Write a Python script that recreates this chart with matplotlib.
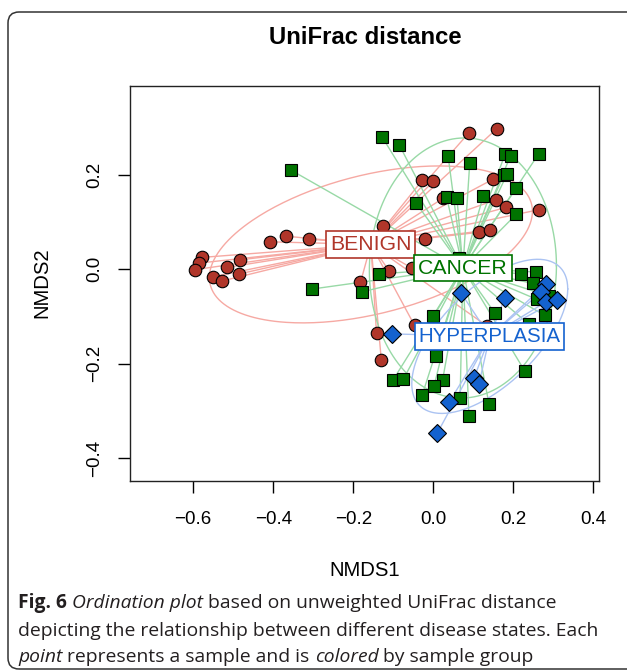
import numpy as np
import matplotlib
matplotlib.use("Agg")
import matplotlib.pyplot as plt
from matplotlib.patches import FancyBboxPatch
from matplotlib.transforms import IdentityTransform

# ---------------- data (NMDS coordinates) ----------------
groups = ["BENIGN", "CANCER", "HYPERPLASIA"]

benign_x = [-0.578, -0.585, -0.596, -0.550, -0.528, -0.515, -0.482, -0.485, -0.408, -0.368, -0.310,
            0.089, 0.158, -0.028, 0.000, 0.150, 0.024, 0.156, 0.182, 0.264, -0.127, 0.113, 0.141,
            -0.022, -0.111, -0.053, -0.182, -0.142, -0.130, -0.047, 0.134]
benign_y = [0.025, 0.013, -0.001, -0.016, -0.025, 0.004, 0.020, -0.010, 0.058, 0.070, 0.064,
            0.289, 0.297, 0.188, 0.186, 0.191, 0.150, 0.147, 0.131, 0.126, 0.092, 0.078, 0.083,
            0.064, -0.003, 0.002, -0.028, -0.136, -0.192, -0.119, -0.120]

cancer_x = [-0.356, -0.303, -0.128, -0.085, 0.037, 0.091, 0.179, 0.193, 0.263, 0.176, 0.184, 0.207,
            -0.043, 0.033, 0.059, 0.125, 0.207, 0.065, -0.135, -0.179, 0.219, 0.256, 0.248, 0.259,
            0.279, 0.000, 0.153, 0.238, 0.007, 0.228, -0.101, -0.075, 0.023, 0.002, -0.028, 0.067,
            0.139, 0.089, 0.289]
cancer_y = [0.210, -0.042, 0.280, 0.263, 0.239, 0.225, 0.243, 0.240, 0.244, 0.200, 0.201, 0.172,
            0.140, 0.153, 0.151, 0.156, 0.116, 0.024, -0.010, -0.048, -0.010, -0.006, -0.030, -0.064,
            -0.098, -0.100, -0.092, -0.116, -0.183, -0.215, -0.235, -0.233, -0.235, -0.247, -0.267, -0.273,
            -0.285, -0.311, -0.057]

hyper_x = [0.069, 0.179, 0.282, 0.269, 0.282, 0.309, -0.104, 0.102, 0.114, 0.039, 0.010]
hyper_y = [-0.050, -0.060, -0.031, -0.049, -0.069, -0.066, -0.137, -0.230, -0.243, -0.282, -0.347]

xticks = [-0.6, -0.4, -0.2, 0.0, 0.2, 0.4]
xtick_labels = ["\u22120.6", "\u22120.4", "\u22120.2", "0.0", "0.2", "0.4"]
yticks = [-0.4, -0.2, 0.0, 0.2]
ytick_labels = ["\u22120.4", "\u22120.2", "0.0", "0.2"]

# ---------------- styles ----------------
fill_cols = {"BENIGN": "#B0362A", "CANCER": "#007300", "HYPERPLASIA": "#1462CF"}
line_cols = {"BENIGN": "#F6A9A3", "CANCER": "#98D9A6", "HYPERPLASIA": "#ABC3F2"}
markers = {"BENIGN": ("o", 9.0), "CANCER": ("s", 8.0), "HYPERPLASIA": ("D", 9.6)}
ell_scale = np.sqrt(-2 * np.log(1 - 0.65))

W, H = 627, 672
fig = plt.figure(figsize=(W / 100, H / 100), dpi=100)
fig.patch.set_facecolor("white")

# outer rounded frame (pixel coordinates)
frame = FancyBboxPatch((8, 3), 660, 657, boxstyle="round,pad=0,rounding_size=11",
                       transform=IdentityTransform(), fill=False, ec="#333333", lw=1.1,
                       clip_on=False)
fig.patches.append(frame)

ax = fig.add_axes([130 / W, 1 - 481 / H, (599 - 130) / W, (481 - 86) / H])
ax.set_xlim(-0.758, 0.414)
ax.set_ylim(-0.4485, 0.388)

font = "Liberation Sans"
data = {"BENIGN": (benign_x, benign_y), "CANCER": (cancer_x, cancer_y),
        "HYPERPLASIA": (hyper_x, hyper_y)}

centroids = {}
for g in groups:
    x = np.array(data[g][0]); y = np.array(data[g][1])
    cx, cy = x.mean(), y.mean()
    centroids[g] = (cx, cy)
    # spider
    for xi, yi in zip(x, y):
        ax.plot([cx, xi], [cy, yi], color=line_cols[g], lw=1.0, zorder=1, solid_capstyle="butt")
    # sd ellipse
    cov = np.cov(np.vstack([x, y]))
    L = np.linalg.cholesky(cov)
    t = np.linspace(0, 2 * np.pi, 300)
    circ = np.vstack([np.cos(t), np.sin(t)])
    e = L @ circ * ell_scale
    ax.plot(cx + e[0], cy + e[1], color=line_cols[g], lw=1.0, zorder=1)

for g in groups:
    x, y = data[g]
    m, ms = markers[g]
    ax.plot(x, y, ls="none", marker=m, ms=ms, mfc=fill_cols[g], mec="black", mew=0.8, zorder=3)

for g, fs in zip(groups, [15.3, 15.3, 14.8]):
    cx, cy = centroids[g]
    ax.text(cx, cy, g, ha="center", va="center", color=fill_cols[g], fontsize=fs, family=font,
            zorder=6, bbox=dict(boxstyle="square,pad=0.18", fc="white", ec=fill_cols[g], lw=1.2))

ax.set_xticks(xticks)
ax.set_xticklabels(xtick_labels, fontsize=13.5, family=font)
ax.set_yticks(yticks)
ax.set_yticklabels(ytick_labels, fontsize=13.5, family=font, rotation=90, va="center")
ax.tick_params(direction="out", length=8.6, width=1.0, color="black")
ax.tick_params(axis="x", pad=13)
ax.tick_params(axis="y", pad=11)
for s in ax.spines.values():
    s.set_linewidth(1.0)
    s.set_color("#222222")

fig.text(365 / W, 1 - 37 / H, "UniFrac distance", ha="center", va="center", fontsize=17.2,
         fontweight="bold", family=font)
fig.text(365 / W, 1 - 570 / H, "NMDS1", ha="center", va="center", fontsize=14.6, family=font)
fig.text(42 / W, 1 - 283 / H, "NMDS2", ha="center", va="center", fontsize=14.6, family=font,
         rotation=90)

# caption with mixed styles
renderer = fig.canvas.get_renderer()
cap_font = "Open Sans"
cap_size = 13.9
cap_col = "#231F20"


def seg_width(s, **kw):
    t = fig.text(0, 0, s, fontsize=cap_size, family=cap_font, **kw)
    w = t.get_window_extent(renderer).width
    t.remove()
    return w


space_w = seg_width("a a") - seg_width("aa")


def rich_line(x0, yc, parts):
    x = x0
    for i, (s, style) in enumerate(parts):
        kw = {}
        if style == "b":
            kw["fontweight"] = "bold"
        if style == "i":
            kw["fontstyle"] = "italic"
        words = s.strip()
        fig.text(x / W, 1 - yc / H, words, fontsize=cap_size, family=cap_font, color=cap_col,
                 va="center", ha="left", **kw)
        x += seg_width(words, **kw) + space_w


rich_line(18, 603, [("Fig. 6", "b"), ("Ordination plot", "i"),
                    ("based on unweighted UniFrac distance", "r")])
rich_line(18, 631, [("depicting the relationship between different disease states. Each", "r")])
rich_line(18, 657, [("point", "i"), ("represents a sample and is", "r"), ("colored", "i"),
                    ("by sample group", "r")])

fig.savefig("out.png", dpi=100, facecolor="white")
